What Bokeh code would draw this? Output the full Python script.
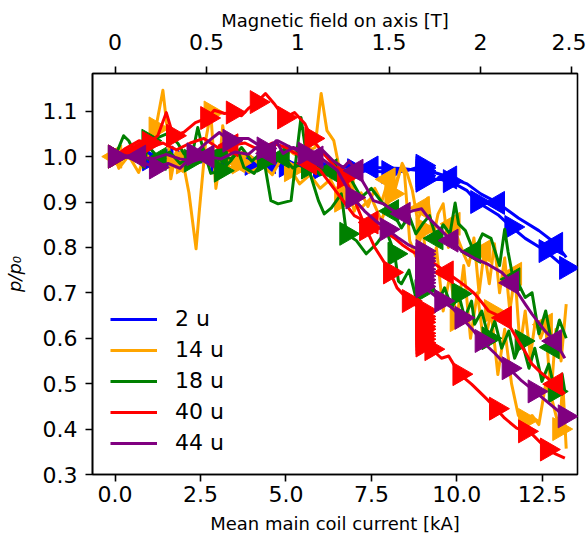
import math
from bokeh.plotting import figure
from bokeh.models import Range1d, LinearAxis, FixedTicker, Legend, LegendItem, NumeralTickFormatter
from bokeh.embed import file_html
from bokeh.resources import INLINE

# ---------------- data ----------------
KA_PER_T = 5.345          # coil current (kA) per tesla on axis
HOLD_I = 9.0              # current of the flat-top hold (kA)

labels = ["2 u", "14 u", "18 u", "40 u", "44 u"]
colors = ["blue", "orange", "green", "red", "purple"]

x_ticks = [0.0, 2.5, 5.0, 7.5, 10.0, 12.5]
y_ticks = [0.3, 0.4, 0.5, 0.6, 0.7, 0.8, 0.9, 1.0, 1.1]
b_ticks = [0, 0.5, 1, 1.5, 2, 2.5]
b_tick_labels = ["0", "0.5", "1", "1.5", "2", "2.5"]

# 2 u
blue_up_x = [0.0, 0.5, 1.0, 1.5, 2.0, 2.5, 3.0, 3.5, 4.0, 4.5, 5.0, 5.5, 6.0, 6.5, 7.0, 7.5, 8.0, 8.5]
blue_up_y = [1.000, 0.998, 0.994, 0.992, 0.990, 0.988, 0.990, 0.986, 0.984, 0.982, 0.980, 0.978, 0.975, 0.972, 0.970, 0.968, 0.966, 0.968]
blue_hold_y = [0.980, 0.975, 0.969, 0.964, 0.958, 0.952, 0.947]
blue_up2_x = [9.5, 9.8, 10.3, 10.6, 11.2, 11.6, 12.0, 12.6, 13.1, 13.2]
blue_up2_y = [0.950, 0.946, 0.925, 0.900, 0.872, 0.845, 0.820, 0.792, 0.760, 0.755]
blue_dn_x = [13.2, 12.9, 12.4, 11.8, 11.2, 10.7, 10.3, 9.8, 9.35, 8.4, 7.5, 6.5, 5.5, 4.5, 3.5, 2.5, 1.5, 0.5, 0.0]
blue_dn_y = [0.778, 0.808, 0.837, 0.865, 0.898, 0.918, 0.940, 0.954, 0.965, 0.974, 0.976, 0.978, 0.984, 0.988, 0.992, 0.995, 0.998, 1.000, 1.000]

# 14 u
orange_up_x = [0.0, 0.11, 0.4, 0.69, 0.9, 1.19, 1.4, 1.55, 1.63, 1.78,
               1.99, 2.16, 2.37, 2.46, 2.66, 2.8, 2.95, 3.05, 3.15, 3.33,
               3.62, 3.92, 4.33, 4.6, 4.9, 5.15, 5.4, 5.7, 6.0, 6.3,
               6.62, 6.91, 7.2, 7.5, 7.79, 8.09, 8.38, 8.47, 8.62, 8.8,
               9.0, 9.2, 9.4, 9.6, 9.8, 10.0, 10.2, 10.4, 10.6, 10.8,
               11.0, 11.2, 11.4, 11.6, 11.8, 12.0, 12.2, 12.4, 12.6, 12.8,
               13.0, 13.1, 13.2]
orange_up_y = [1.000, 0.974, 1.002, 0.965, 1.009, 1.062, 1.146, 1.046, 0.951, 1.009,
               0.987, 0.921, 0.797, 0.876, 1.040, 1.097, 0.930, 0.980, 1.068, 0.974,
               0.987, 0.965, 0.980, 0.960, 1.000, 0.970, 0.940, 0.960, 0.930, 0.950,
               0.903, 0.918, 0.887, 0.909, 0.859, 0.918, 0.976, 0.962, 0.815, 0.780,
               0.840, 0.720, 0.800, 0.660, 0.740, 0.640, 0.760, 0.600, 0.700, 0.580,
               0.660, 0.520, 0.620, 0.500, 0.430, 0.420, 0.430, 0.410, 0.500, 0.460,
               0.400, 0.500, 0.357]
orange_dn_x = [13.2, 13.05, 12.9, 12.75, 12.6, 12.45, 12.3, 12.15, 12.0, 11.85,
               11.7, 11.55, 11.4, 11.25, 11.1, 10.95, 10.8, 10.65, 10.5, 10.35,
               10.2, 10.05, 9.9, 9.75, 9.6, 9.45, 9.3, 9.15, 9.0, 8.85,
               8.7, 8.55, 8.4, 8.2, 8.0, 7.8, 7.6, 7.4, 7.2, 7.0,
               6.8, 6.6, 6.4, 6.2, 6.03, 5.85, 5.54, 5.15, 4.8, 4.5,
               4.2, 3.9, 3.6, 3.3, 3.0, 2.7, 2.4, 2.1, 1.8, 1.5,
               1.2, 0.9, 0.6, 0.3, 0.0]
orange_dn_y = [0.675, 0.550, 0.620, 0.470, 0.630, 0.600, 0.640, 0.560, 0.660, 0.580,
               0.742, 0.660, 0.777, 0.700, 0.808, 0.720, 0.792, 0.700, 0.821, 0.760,
               0.786, 0.815, 0.852, 0.800, 0.896, 0.874, 0.820, 0.909, 0.887, 0.860,
               0.925, 0.962, 0.985, 0.930, 0.950, 0.900, 0.930, 0.890, 0.920, 0.880,
               0.930, 0.960, 1.035, 1.057, 1.139, 1.020, 1.007, 1.013, 0.990, 1.000,
               0.985, 1.005, 0.990, 1.010, 0.995, 1.000, 0.985, 1.010, 0.990, 1.000,
               0.985, 1.005, 0.990, 1.000, 1.000]

# 18 u
green_up_x = [0.0, 0.25, 0.4, 0.55, 0.84, 0.98, 1.25, 1.55, 1.84, 2.01,
              2.22, 2.42, 2.51, 2.66, 2.8, 3.1, 3.39, 3.6, 3.77, 4.07,
              4.36, 4.56, 4.77, 5.15, 5.44, 5.65, 5.95, 6.12, 6.33, 6.62,
              6.77, 7.06, 7.35, 7.65, 7.94, 8.18, 8.29, 8.38, 8.6, 8.8,
              8.97, 9.26, 9.47, 9.64, 9.85, 10.05, 10.23, 10.43, 10.52, 10.73,
              10.93, 11.11, 11.31, 11.52, 11.69, 11.9, 12.11, 12.28, 12.49, 12.69,
              12.87, 13.08, 13.16]
green_up_y = [1.000, 1.046, 1.035, 1.013, 0.976, 1.035, 1.042, 1.051, 1.029, 1.007,
              0.991, 1.064, 1.035, 0.998, 0.963, 0.969, 0.991, 1.013, 0.976, 0.963,
              0.991, 0.903, 0.896, 0.903, 1.086, 0.976, 0.903, 0.874, 0.887, 0.918,
              0.830, 0.815, 0.786, 0.808, 0.837, 0.786, 0.726, 0.720, 0.750, 0.690,
              0.704, 0.720, 0.682, 0.711, 0.667, 0.698, 0.645, 0.682, 0.631, 0.660,
              0.600, 0.638, 0.578, 0.616, 0.556, 0.594, 0.534, 0.578, 0.505, 0.543,
              0.483, 0.521, 0.483]
green_dn_x = [13.2, 13.0, 12.8, 12.6, 12.4, 12.2, 12.0, 11.8, 11.65, 11.5,
              11.4, 11.25, 11.0, 10.75, 10.5, 10.25, 10.05, 9.95, 9.8, 9.6,
              9.4, 9.2, 9.0, 8.8, 8.6, 8.38, 8.1, 7.8, 7.5, 7.2,
              6.9, 6.6, 6.3, 6.0, 5.7, 5.6, 5.5, 5.2, 4.9, 4.6,
              4.3, 4.0, 3.7, 3.4, 3.1, 2.8, 2.5, 2.2, 1.9, 1.6,
              1.3, 1.0, 0.7, 0.4, 0.0]
green_dn_y = [0.600, 0.640, 0.580, 0.660, 0.610, 0.700, 0.690, 0.720, 0.730, 0.790,
              0.840, 0.760, 0.820, 0.830, 0.790, 0.837, 0.852, 0.898, 0.830, 0.850,
              0.820, 0.870, 0.852, 0.830, 0.870, 0.843, 0.880, 0.900, 0.930, 0.910,
              0.950, 0.940, 0.970, 0.960, 0.990, 0.975, 0.985, 0.975, 1.000, 0.985,
              1.010, 0.990, 1.020, 0.995, 1.005, 0.990, 1.015, 1.000, 0.985, 1.010,
              0.995, 1.020, 1.000, 1.010, 1.000]

# 40 u
red_up_x = [0.0, 0.3, 0.7, 1.0, 1.25, 1.5, 1.7, 2.0, 2.35, 2.7,
            2.9, 3.2, 3.45, 3.7, 3.9, 4.15, 4.4, 4.65, 4.95, 5.25,
            5.55, 5.75, 6.1, 6.35, 6.7, 6.85, 7.05, 7.35, 7.6, 7.85,
            8.05, 8.25, 8.45, 8.6]
red_up_y = [1.000, 1.018, 1.035, 1.030, 1.046, 1.097, 1.046, 1.053, 1.075, 1.085,
            1.102, 1.095, 1.097, 1.090, 1.106, 1.120, 1.139, 1.117, 1.086, 1.097,
            1.073, 1.040, 1.007, 0.985, 0.954, 0.932, 0.896, 0.840, 0.800, 0.770,
            0.745, 0.711, 0.695, 0.682]
red_hold_y = [0.663, 0.657, 0.648, 0.642, 0.635, 0.626, 0.620, 0.611, 0.605, 0.598, 0.590, 0.584]
red_up2_x = [9.26, 9.55, 9.76, 10.08, 10.43, 10.88, 11.15, 11.4, 11.75, 12.0, 12.2, 12.45, 12.64, 12.9, 13.16]
red_up2_y = [0.576, 0.556, 0.561, 0.521, 0.499, 0.466, 0.445, 0.424, 0.402, 0.395, 0.389, 0.370, 0.355, 0.345, 0.336]
red_dn_x = [13.16, 12.9, 12.69, 12.45, 12.2, 12.0, 11.8, 11.6, 11.4, 11.15,
            10.93, 10.72, 10.52, 10.3, 10.05, 9.7, 9.35, 9.0, 8.67, 8.4,
            8.17, 7.8, 7.5, 7.2, 7.0, 6.7, 6.5, 6.2, 6.0, 5.7,
            5.5, 5.2, 5.0, 4.6, 4.2, 3.8, 3.4, 3.0, 2.6, 2.2,
            1.8, 1.4, 1.0, 0.6, 0.3, 0.0]
red_dn_y = [0.477, 0.499, 0.510, 0.525, 0.543, 0.570, 0.594, 0.620, 0.645, 0.652,
            0.660, 0.680, 0.698, 0.712, 0.726, 0.745, 0.764, 0.778, 0.792, 0.806,
            0.821, 0.840, 0.855, 0.862, 0.870, 0.900, 0.920, 0.950, 0.970, 0.985,
            1.000, 1.010, 1.020, 1.030, 1.015, 1.030, 1.025, 1.020, 1.040, 1.030,
            1.015, 1.030, 1.020, 1.010, 1.015, 1.000]

# 44 u
purple_up_x = [0.0, 0.4, 0.8, 1.2, 1.55, 1.9, 2.3, 2.65, 3.05, 3.35,
               3.55, 3.9, 4.35, 4.75, 5.15, 5.55, 6.0, 6.5, 6.95, 7.3,
               7.6, 7.95, 8.3, 8.6]
purple_up_y = [1.000, 0.998, 0.987, 0.976, 0.985, 0.974, 1.005, 1.029, 1.053, 1.035,
               1.040, 1.040, 1.018, 1.035, 1.020, 1.007, 0.998, 0.970, 0.910, 0.880,
               0.860, 0.840, 0.820, 0.805]
purple_hold_y = [0.792, 0.785, 0.776, 0.770, 0.761, 0.752, 0.745, 0.737, 0.729, 0.722, 0.714]
purple_up2_x = [9.25, 9.55, 9.85, 10.14, 10.45, 10.73, 11.11, 11.52, 11.9, 12.28, 12.69, 13.16]
purple_up2_y = [0.700, 0.682, 0.668, 0.645, 0.620, 0.594, 0.567, 0.534, 0.506, 0.483, 0.457, 0.428]
purple_dn_x = [13.16, 12.87, 12.58, 12.2, 12.0, 11.8, 11.61, 11.31, 10.93, 10.52,
               10.14, 9.84, 9.47, 9.17, 8.97, 8.73, 8.44, 8.14, 7.85, 7.56,
               7.35, 7.06, 6.85, 6.68, 6.38, 6.09, 5.89, 5.5, 5.21, 4.92,
               4.71, 4.5, 4.13, 3.9, 3.5, 3.1, 2.7, 2.3, 1.9, 1.5,
               1.1, 0.7, 0.35, 0.0]
purple_dn_y = [0.556, 0.594, 0.616, 0.653, 0.675, 0.698, 0.722, 0.745, 0.762, 0.776,
               0.792, 0.815, 0.843, 0.865, 0.885, 0.881, 0.874, 0.881, 0.896, 0.903,
               0.932, 0.969, 0.990, 0.976, 0.991, 1.013, 0.998, 1.013, 1.020, 1.007,
               1.035, 1.007, 1.020, 1.005, 1.010, 0.995, 1.000, 0.990, 0.995, 1.005,
               0.995, 1.000, 1.002, 1.000]

# ---------------- figure ----------------
FONT = "DejaVu Sans"
X_RANGE = (-0.66, 13.53)
Y_RANGE = (0.30, 1.183)

p = figure(width=586, height=540, output_backend="svg", toolbar_location=None,
           x_range=Range1d(*X_RANGE), y_range=Range1d(*Y_RANGE),
           min_border_left=92, min_border_right=9, min_border_top=73, min_border_bottom=66)
p.background_fill_color = "white"
p.border_fill_color = "white"
p.outline_line_color = "black"
p.outline_line_width = 1.6
p.xgrid.visible = False
p.ygrid.visible = False
p.extra_x_ranges = {"field": Range1d(X_RANGE[0] / KA_PER_T, X_RANGE[1] / KA_PER_T)}


def style_axis(ax, standoff, label_standoff):
    ax.axis_line_width = 1.6
    ax.axis_line_color = "black"
    ax.major_tick_line_width = 1.6
    ax.major_tick_in = 0
    ax.major_tick_out = 7
    ax.minor_tick_line_color = None
    ax.major_label_text_font = FONT
    ax.major_label_text_font_size = "22px"
    ax.major_label_text_color = "black"
    ax.major_label_standoff = standoff
    ax.axis_label_text_font = FONT
    ax.axis_label_text_font_size = "18px"
    ax.axis_label_text_font_style = "normal"
    ax.axis_label_text_color = "black"
    ax.axis_label_standoff = label_standoff


xa = p.xaxis[0]
xa.ticker = FixedTicker(ticks=x_ticks)
xa.formatter = NumeralTickFormatter(format="0.0")
xa.axis_label = "Mean main coil current [kA]"
style_axis(xa, 4, 8)

ya = p.yaxis[0]
ya.ticker = FixedTicker(ticks=y_ticks)
ya.formatter = NumeralTickFormatter(format="0.0")
ya.axis_label = "p/p₀"
style_axis(ya, 8, 15)
ya.axis_label_text_font_style = "italic"

top = LinearAxis(x_range_name="field", axis_label="Magnetic field on axis [T]",
                 ticker=FixedTicker(ticks=b_ticks),
                 major_label_overrides={t: s for t, s in zip(b_ticks, b_tick_labels)})
style_axis(top, 17, 0)
p.add_layout(top, "above")

LW = 3
MS = 23
RIGHT = -math.pi / 2
LEFT = math.pi / 2


def up_branch(x1, y1, step1, hold=None, x2=None, y2=None, start2=0, step2=2):
    xs, ys = list(x1), list(y1)
    mx, my = list(x1[::step1]), list(y1[::step1])
    if hold:
        xs += [HOLD_I] * len(hold)
        ys += list(hold)
        mx += [HOLD_I] * len(hold)
        my += list(hold)
    if x2:
        xs += list(x2)
        ys += list(y2)
        mx += list(x2[start2::step2])
        my += list(y2[start2::step2])
    return xs, ys, mx, my


series = [
    (up_branch(blue_up_x, blue_up_y, 2, blue_hold_y, blue_up2_x, blue_up2_y, 1, 2),
     (blue_dn_x, blue_dn_y, 1, 3)),
    (up_branch(orange_up_x, orange_up_y, 5),
     (orange_dn_x, orange_dn_y, 4, 6)),
    (up_branch(green_up_x, green_up_y, 5),
     (green_dn_x, green_dn_y, 2, 6)),
    (up_branch(red_up_x, red_up_y, 3, red_hold_y, red_up2_x, red_up2_y, 0, 3),
     (red_dn_x, red_dn_y, 1, 7)),
    (up_branch(purple_up_x, purple_up_y, 3, purple_hold_y, purple_up2_x, purple_up2_y, 1, 2),
     (purple_dn_x, purple_dn_y, 1, 5)),
]

items = []
for (up, dn), lab, col in zip(series, labels, colors):
    ux, uy, umx, umy = up
    r = p.line(ux, uy, line_color=col, line_width=LW, line_join="round")
    p.scatter(umx, umy, marker="triangle", size=MS, angle=RIGHT,
              fill_color=col, line_color=col, line_width=1)
    dx, dy, s0, st = dn
    p.line(dx, dy, line_color=col, line_width=LW, line_join="round")
    p.scatter(dx[s0::st], dy[s0::st], marker="triangle", size=MS, angle=LEFT,
              fill_color=col, line_color=col, line_width=1)
    items.append(LegendItem(label=lab, renderers=[r]))

legend = Legend(items=items, location=(18, 19), orientation="vertical",
                label_text_font=FONT, label_text_font_size="22px",
                label_text_color="black",
                glyph_width=47, glyph_height=22, label_height=22,
                label_standoff=18, spacing=6, padding=0, margin=0,
                border_line_alpha=0, background_fill_alpha=0)
p.add_layout(legend, "center")

open("out.html", "w").write(file_html(p, INLINE))
